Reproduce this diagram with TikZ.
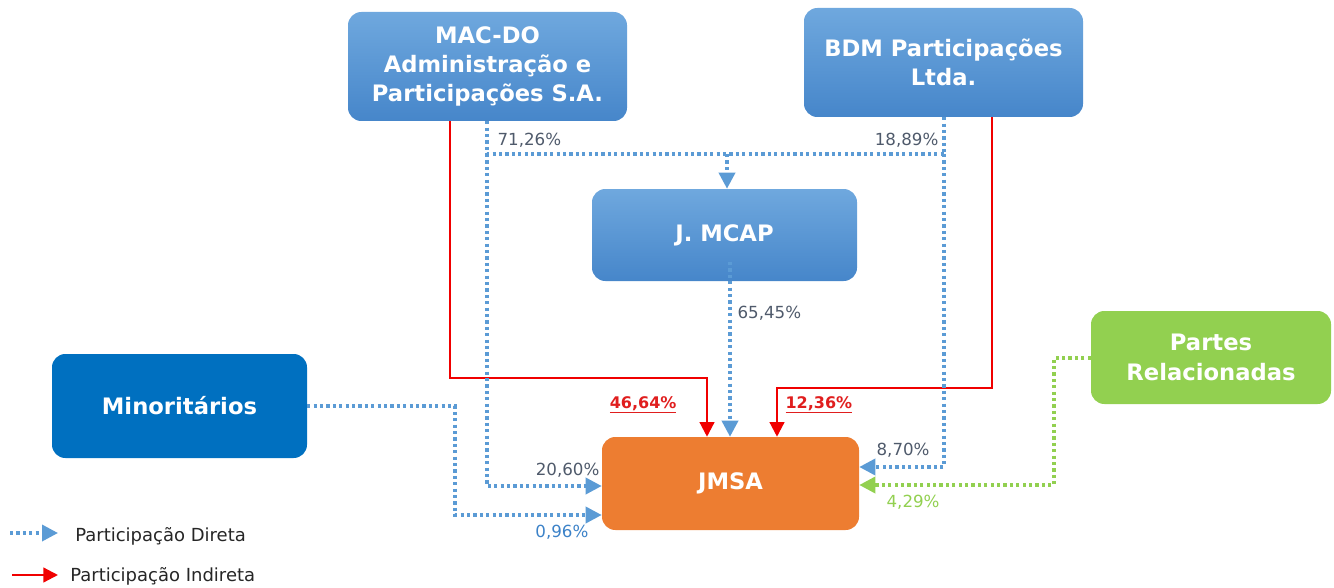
\documentclass[tikz,border=0pt]{standalone}
\usepackage{fontspec}
\setmainfont{DejaVu Sans}
\usetikzlibrary{arrows.meta}
\definecolor{boxtop}{HTML}{6FA8DE}
\definecolor{boxbot}{HTML}{4686CA}
\definecolor{minblue}{HTML}{0070C0}
\definecolor{relgreen}{HTML}{92D050}
\definecolor{jmsaorange}{HTML}{ED7D31}
\definecolor{dotblue}{HTML}{5B9BD5}
\definecolor{linered}{HTML}{F00000}
\definecolor{labgray}{HTML}{4F5A6B}
\definecolor{labblue}{HTML}{3C82C8}
\definecolor{labred}{HTML}{E01E1E}
\begin{document}
\begin{tikzpicture}[x=0.75pt,y=-0.75pt,
  entity/.style={rounded corners=10pt,align=center,text=white,
    font=\fontsize{17}{22}\selectfont\bfseries,inner sep=0pt},
  gradbox/.style={entity,top color=boxtop,bottom color=boxbot,draw=none},
  direct/.style={draw=dotblue,line width=2.6pt,dash pattern=on 2.4pt off 2.4pt},
  directtip/.style={direct,-{Triangle[length=12pt,width=12pt]}},
  related/.style={draw=relgreen,line width=2.6pt,dash pattern=on 2.4pt off 2.4pt,
    -{Triangle[length=12pt,width=12pt]}},
  indirect/.style={draw=linered,line width=1.7pt,-{Triangle[length=11pt,width=11pt]}},
  pct/.style={font=\fontsize{12.5}{15}\selectfont,text=labgray,inner sep=1pt},
  redpct/.style={pct,text=labred,font=\fontsize{12}{15}\selectfont\bfseries},
  legend/.style={font=\fontsize{13.5}{16}\selectfont,text=black!85,anchor=west,inner sep=0pt}]
\useasboundingbox (0,0) rectangle (1334,588);

% entities
\node[gradbox,minimum width=209.25pt,minimum height=81.75pt] (mac) at (487.5,66.5)
  {MAC-DO\\Administração e\\Participações S.A.};
\node[gradbox,minimum width=209.25pt,minimum height=81.75pt] (bdm) at (943.5,62.5)
  {BDM Participações\\Ltda.};
\node[gradbox,minimum width=198.75pt,minimum height=69pt] (jmcap) at (724.5,235)
  {J. MCAP};
\node[entity,fill=minblue,minimum width=191.25pt,minimum height=78pt] (min) at (179.5,406)
  {Minoritários};
\node[entity,fill=relgreen,minimum width=180pt,minimum height=69.75pt] (rel) at (1211,357.5)
  {Partes\\Relacionadas};
\node[entity,fill=jmsaorange,minimum width=192.75pt,minimum height=69.75pt] (jmsa) at (730.5,483.5)
  {JMSA};

% turning points
\coordinate (macA) at (487,154);
\coordinate (macB) at (487,486);
\coordinate (bdmA) at (944,154);
\coordinate (bdmB) at (944,467);
\coordinate (split) at (727,154);
\coordinate (capX) at (730,262);
\coordinate (minA) at (455,406);
\coordinate (minB) at (455,515);
\coordinate (relA) at (1054,358);
\coordinate (relB) at (1054,485);
\coordinate (r1a) at (450,378);
\coordinate (r1b) at (707,378);
\coordinate (r2a) at (992,388);
\coordinate (r2b) at (777,388);

% indirect holdings
\draw[indirect] (mac.south -| r1a) -- (r1a) -- (r1b) -- (jmsa.north -| r1b);
\draw[indirect] (bdm.south -| r2a) -- (r2a) -- (r2b) -- (jmsa.north -| r2b);

% direct holdings
\draw[direct] (mac.south -| macA) -- (macA) -- (bdmA);
\draw[direct] (bdm.south -| bdmA) -- (bdmA);
\draw[directtip] (split) -- (jmcap.north -| split);
\draw[directtip] (macA) -- (macB) -- (jmsa.west |- macB);
\draw[directtip] (bdmA) -- (bdmB) -- (jmsa.east |- bdmB);
\draw[directtip] (capX) -- (jmsa.north -| capX);
\draw[directtip] (min.east |- minA) -- (minA) -- (minB) -- (jmsa.west |- minB);
\draw[related] (rel.west |- relA) -- (relA) -- (relB) -- (jmsa.east |- relB);

% percentages
\node[pct,anchor=west] (p7126) at (496,140) {71,26\%};
\node[pct,anchor=east] (p1889) at (940,140) {18,89\%};
\node[pct,anchor=west] (p6545) at (736,313) {65,45\%};
\node[pct,anchor=east] (p2060) at (601,470) {20,60\%};
\node[pct,anchor=west] (p0870) at (875,450) {8,70\%};
\node[pct,anchor=east,text=labblue] (p0096) at (590,532) {0,96\%};
\node[pct,anchor=west,text=relgreen] (p0429) at (885,502) {4,29\%};
\node[redpct,anchor=east] (p4664) at (678,405) {\underline{46,64\%}};
\node[redpct,anchor=west] (p1236) at (784,405) {\underline{12,36\%}};

% legend
\coordinate (lgA) at (10,533);
\coordinate (lgB) at (58,533);
\coordinate (lgC) at (12,575);
\coordinate (lgD) at (58,575);
\draw[directtip] (lgA) -- (lgB);
\draw[indirect] (lgC) -- (lgD);
\node[legend] (lgdir) at (75,536) {Participação Direta};
\node[legend] (lgind) at (70,576) {Participação Indireta};
\end{tikzpicture}
\end{document}
